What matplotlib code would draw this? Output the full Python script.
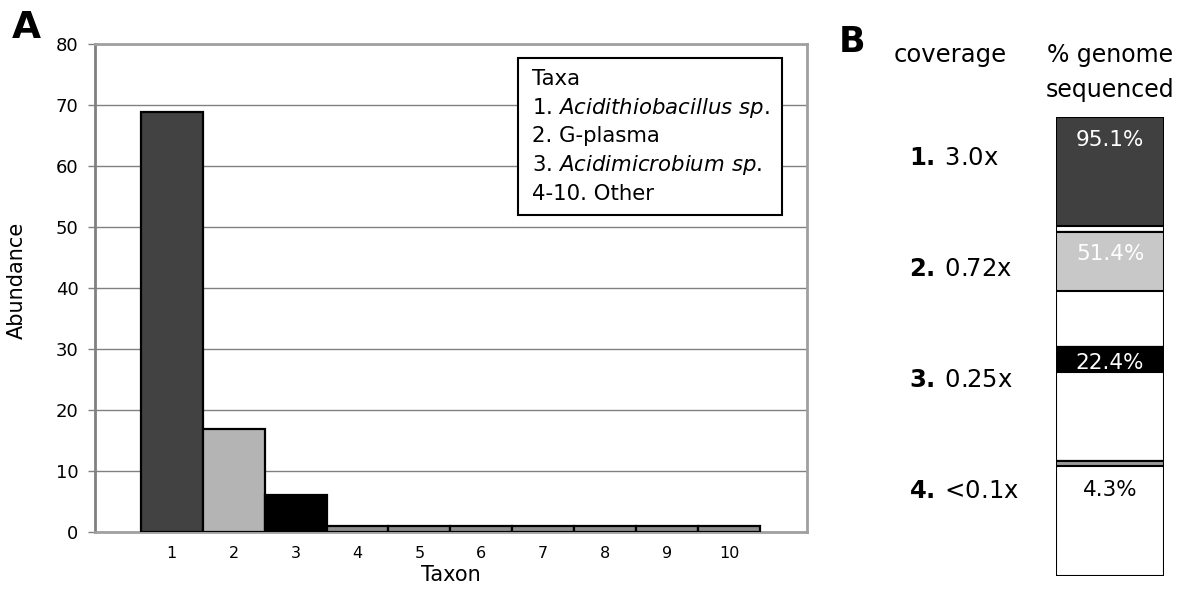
import numpy as np
import matplotlib
matplotlib.use('Agg')
import matplotlib.pyplot as plt
from matplotlib.patches import Rectangle

plt.rcParams['font.family'] = ['DejaVu Sans']
plt.rcParams['mathtext.fontset'] = 'dejavusans'

# Panel A data: abundance per taxon
taxon_ids = [1, 2, 3, 4, 5, 6, 7, 8, 9, 10]
abundance = [68.9, 16.9, 6.0, 1.0, 1.0, 1.0, 1.0, 1.0, 1.0, 1.0]
bar_colors = ['#424242', '#b4b4b4', '#000000'] + ['#8e8e8e'] * 7
y_ticks = [0, 10, 20, 30, 40, 50, 60, 70, 80]

# legend box lines (number, name, italic?)
legend_title = 'Taxa'
legend_nums = ['1.', '2.', '3.', '4-10.']
legend_names = ['Acidithiobacillus sp.', 'G-plasma', 'Acidimicrobium sp.', 'Other']
legend_italic = [True, False, True, False]

# Panel B data: coverage and % genome sequenced
cov_nums = ['1.', '2.', '3.', '4.']
cov_labels = ['3.0x', '0.72x', '0.25x', '<0.1x']
pct_sequenced = [95.1, 51.4, 22.4, 4.3]
seg_colors = ['#404040', '#c8c8c8', '#000000', '#999999']
pct_text_colors = ['white', 'white', 'white', 'black']

W, H = 1182, 592
fig = plt.figure(figsize=(W / 100, H / 100), dpi=100)


def px_box(x0, y0, x1, y1):
    # pixel box (top-left origin) -> figure fraction rect
    return [x0 / W, 1 - y1 / H, (x1 - x0) / W, (y1 - y0) / H]


# ---------- Panel A ----------
ax = fig.add_axes(px_box(95, 44, 807, 532))
ax.bar(taxon_ids, abundance, width=1.0, color=bar_colors,
       edgecolor='black', linewidth=1.6, zorder=3)
ax.set_xlim(-0.24, 11.26)
ax.set_ylim(0, 80)
ax.set_yticks(y_ticks)
ax.set_xticks(taxon_ids)
ax.tick_params(axis='y', labelsize=13, length=5, width=1, color='#808080',
               direction='out', pad=7)
ax.tick_params(axis='x', labelsize=11.5, length=0, pad=10)
ax.yaxis.grid(True, color='#808080', linewidth=1, zorder=0)
ax.set_axisbelow(True)
for side in ['top', 'right', 'bottom']:
    ax.spines[side].set_color('#a0a0a0')
    ax.spines[side].set_linewidth(2)
ax.spines['left'].set_color('#808080')
ax.spines['left'].set_linewidth(2)
ax.set_xlabel('Taxon', fontsize=15, labelpad=3)
ax.set_ylabel('Abundance', fontsize=15)
ax.yaxis.set_label_coords(-0.0955, 0.516)

# legend box
ax.add_patch(Rectangle((0.594, 0.650), 0.371, 0.321, transform=ax.transAxes,
                       facecolor='white', edgecolor='black', linewidth=1.5,
                       zorder=5))
lx = (532 - 95) / 712
ax.text(lx, (532 - 85) / 488, legend_title, transform=ax.transAxes,
        fontsize=15.3, va='baseline', ha='left', zorder=6)
for i, (num, name, it) in enumerate(zip(legend_nums, legend_names, legend_italic)):
    if it:
        label = num + ' $\\mathit{' + name.replace(' ', '\\ ') + '}$'
    else:
        label = num + ' ' + name
    yb = 85 + 28.7 * (i + 1)
    ax.text(lx, (532 - yb) / 488, label, transform=ax.transAxes,
            fontsize=15.3, va='baseline', ha='left', zorder=6)

fig.text(12 / W, 1 - 38 / H, 'A', fontsize=27, fontweight='bold',
         ha='left', va='baseline')

# ---------- Panel B ----------
axb = fig.add_axes(px_box(1056, 117, 1164, 576))
n = len(pct_sequenced)
tops = [100 * i for i in range(n)]
# white section boxes
axb.bar([0] * n, [100] * n, bottom=tops, width=1.0, color='white',
        edgecolor='black', linewidth=1.5)
# filled part = % genome sequenced
axb.bar([0] * n, pct_sequenced, bottom=tops, width=1.0, color=seg_colors,
        edgecolor='black', linewidth=1.5)
axb.set_xlim(-0.5, 0.5)
axb.set_ylim(100 * n, 0)
axb.axis('off')

for i, (p, tc) in enumerate(zip(pct_sequenced, pct_text_colors)):
    if p > 15:
        yb = tops[i] + min(25, p - 2.4)
    else:
        yb = tops[i] + p + 26
    axb.text(0, yb, f'{p}%', color=tc, fontsize=15.5, ha='center',
             va='baseline')

for i, (num, lab) in enumerate(zip(cov_nums, cov_labels)):
    fig.text(909 / W, 1 - (165 + 111 * i) / H,
             '$\\mathbf{' + num + '}$\u2009' + lab,
             fontsize=17.5, ha='left', va='baseline')

fig.text(950 / W, 1 - 62 / H, 'coverage', fontsize=17.5, ha='center',
         va='baseline')
fig.text(1110 / W, 1 - 62 / H, '% genome', fontsize=17, ha='center',
         va='baseline')
fig.text(1110 / W, 1 - 97 / H, 'sequenced', fontsize=17, ha='center',
         va='baseline')
fig.text(839 / W, 1 - 52 / H, 'B', fontsize=25, fontweight='bold',
         ha='left', va='baseline')

fig.savefig('out.png', dpi=100)
